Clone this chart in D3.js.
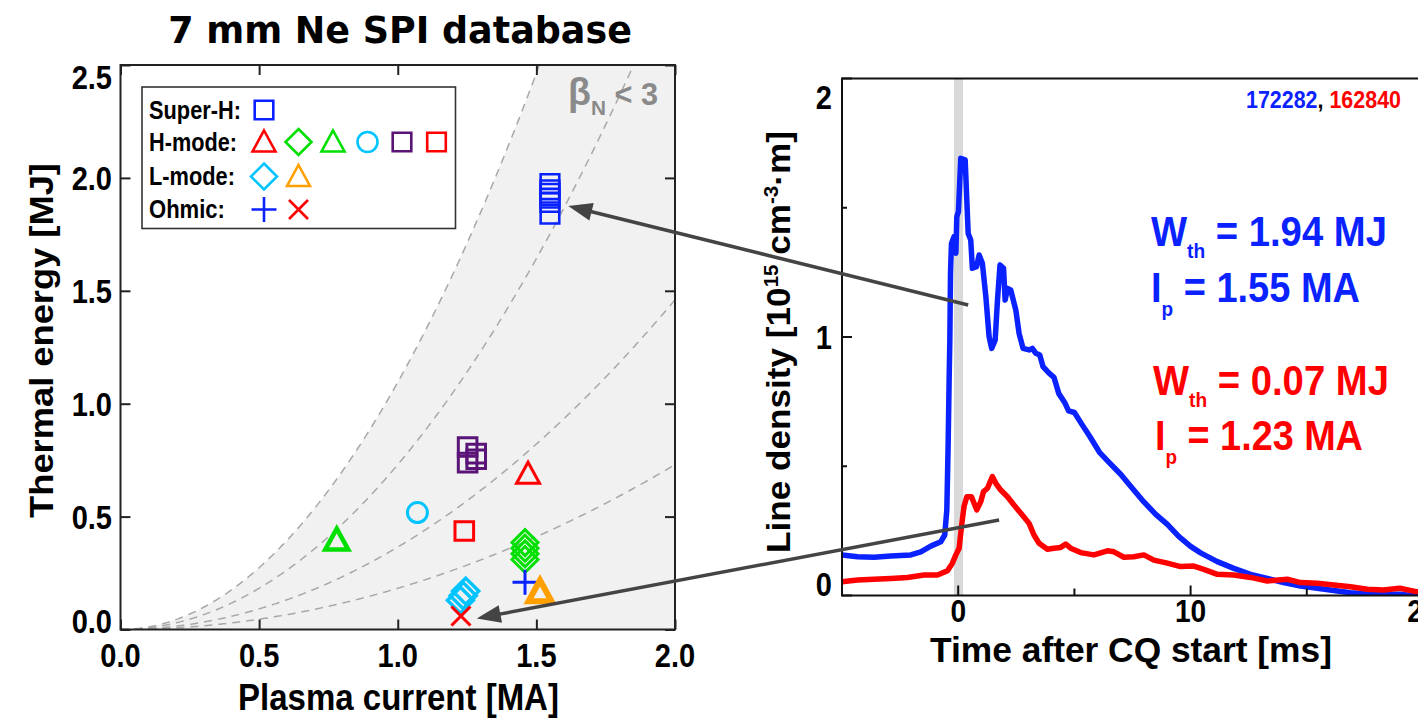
<!DOCTYPE html>
<html><head><meta charset="utf-8">
<script src="https://cdn.jsdelivr.net/npm/d3@7"></script>
<style>
body{margin:0;background:#fff}
svg{display:block}
text{font-family:'Liberation Sans',Arial,Helvetica,sans-serif;font-weight:bold}
</style>
</head><body>
<svg id="c" width="1418" height="724"></svg>
<script>
// ---------------- DATA ----------------
// Left panel: thermal energy [MJ] vs plasma current [MA]
const xTicksLeft = [0.0, 0.5, 1.0, 1.5, 2.0];
const yTicksLeft = [0.0, 0.5, 1.0, 1.5, 2.0, 2.5];
const betaNContours = [3, 2, 1, 0.5];
const betaNCoef = 0.365; // W = coef * betaN * Ip^2

const superH_I = [1.549, 1.549, 1.549, 1.549, 1.549, 1.549];
const superH_W = [1.975, 1.947, 1.932, 1.910, 1.891, 1.839];
const hRedTri_I = [1.47];           const hRedTri_W = [0.69];
const hGreenDia_I = [1.459, 1.459, 1.459, 1.459];
const hGreenDia_W = [0.385, 0.36, 0.335, 0.31];
const hGreenTri_I = [0.78];         const hGreenTri_W = [0.396];
const hCyanCirc_I = [1.071];        const hCyanCirc_W = [0.518];
const hPurpleSq_I = [1.252, 1.252, 1.283, 1.283];
const hPurpleSq_W = [0.808, 0.739, 0.779, 0.754];
const hRedSq_I = [1.24];            const hRedSq_W = [0.436];
const lCyanDia_I = [1.245, 1.236, 1.226];
const lCyanDia_W = [0.17, 0.15, 0.13];
const lOrangeTri_I = [1.513];       const lOrangeTri_W = [0.167];
const ohmPlus_I = [1.459];          const ohmPlus_W = [0.209];
const ohmX_I = [1.228];             const ohmX_W = [0.06];

const legendRows = ["Super-H:", "H-mode:", "L-mode:", "Ohmic:"];

// Right panel: line density [1e15 cm^-3 m] vs time after CQ start [ms]
const xTicksRight = [-5, 0, 5, 10, 15, 20];
const xTickLabelsRight = ["", "0", "", "10", "", "20"];
const yTicksRight = [0, 0.5, 1, 1.5, 2];
const yTickLabelsRight = ["0", "", "1", "", "2"];
const cqWindow = [-0.18, 0.21];

const t172282 = [-5.0,-4.33,-3.62,-2.9,-2.04,-1.61,-1.18,-0.75,-0.58,-0.49,-0.46,-0.43,-0.39,-0.36,-0.33,-0.29,-0.18,-0.10,-0.06,0.01,0.11,0.30,0.37,0.43,0.54,0.61,0.79,0.90,1.04,1.19,1.33,1.44,1.59,1.69,1.80,1.95,2.02,2.12,2.26,2.48,2.62,2.79,3.05,3.19,3.34,3.51,3.65,3.91,4.12,4.33,4.58,4.75,5.0,5.33,5.67,6.08,6.5,7.0,7.5,8.0,8.5,9.0,9.5,10.0,10.43,11.15,11.86,12.58,13.3,14.0,14.73,15.45,16.16,16.88,17.6,18.3,19.0,19.7,20.0];
const n172282 = [0.157,0.150,0.148,0.153,0.157,0.169,0.191,0.208,0.234,0.331,0.46,0.6,0.834,0.988,1.25,1.362,1.388,1.324,1.465,1.485,1.691,1.685,1.53,1.40,1.375,1.266,1.272,1.317,1.285,1.156,1.001,0.956,0.988,1.143,1.279,1.266,1.143,1.188,1.182,1.104,1.014,0.956,0.950,0.956,0.937,0.930,0.885,0.86,0.844,0.781,0.747,0.714,0.708,0.661,0.614,0.554,0.514,0.468,0.414,0.361,0.314,0.275,0.228,0.19,0.165,0.131,0.105,0.082,0.066,0.050,0.037,0.028,0.019,0.011,0.006,0.005,0.005,-0.002,-0.004];

const t162840 = [-5.0,-4.33,-3.62,-2.9,-2.18,-1.47,-0.89,-0.46,-0.25,-0.10,0.04,0.14,0.25,0.37,0.57,0.80,0.97,1.09,1.26,1.47,1.62,1.83,2.12,2.40,2.76,3.05,3.26,3.48,3.84,4.12,4.41,4.63,4.84,5.27,5.84,6.42,6.70,7.13,7.56,7.99,8.42,9.0,9.57,10.14,10.57,11.15,11.86,12.58,13.3,14.16,14.73,15.45,16.16,16.88,17.6,18.3,19.0,19.7,20.0];
const n162840 = [0.053,0.060,0.063,0.066,0.070,0.079,0.079,0.096,0.125,0.157,0.183,0.266,0.344,0.382,0.382,0.331,0.363,0.402,0.415,0.46,0.434,0.408,0.382,0.350,0.311,0.279,0.234,0.202,0.179,0.183,0.186,0.199,0.183,0.166,0.157,0.173,0.169,0.148,0.150,0.157,0.137,0.125,0.112,0.114,0.101,0.082,0.079,0.070,0.056,0.063,0.050,0.047,0.041,0.034,0.024,0.021,0.028,0.015,0.012];

// Arrows linking right-panel traces to left-panel points
const arrowFromT = [0.43, 1.76];
const arrowFromN = [1.124, 0.292];
const arrowToI = [1.615, 1.285];
const arrowToW = [1.876, 0.049];

// ---------------- DRAWING ----------------
const svg = d3.select('#c');
const SX = 0.88; // horizontal condensation of label font

function label(parent, x, y, parts, o = {}) {
  const g = parent.append('g');
  const t = g.append('text')
    .attr('text-anchor', o.anchor || 'start')
    .attr('font-size', o.size || 32)
    .attr('fill', o.fill || '#000');
  if (o.family) t.style('font-family', o.family);
  parts.forEach(p => {
    if (typeof p === 'string') p = {t: p};
    const s = t.append('tspan').text(p.t);
    if (p.dy !== undefined) s.attr('dy', p.dy);
    if (p.size) s.attr('font-size', p.size);
    if (p.fill) s.attr('fill', p.fill);
  });
  let sx = o.sx || SX;
  if (o.w) sx = o.w / t.node().getComputedTextLength();
  const sy = o.sy || 1;
  g.attr('transform', `translate(${x},${y}) rotate(${o.rot || 0}) scale(${sx},${sy})`);
  return t;
}

// ===== Left panel =====
const xL = d3.scaleLinear().domain([0, 2]).range([120.5, 675]);
const yL = d3.scaleLinear().domain([0, 2.5]).range([629.5, 65]);

const defs = svg.append('defs');
defs.append('clipPath').attr('id', 'clipL')
  .append('rect').attr('x', xL(0)).attr('y', yL(2.5))
  .attr('width', xL(2) - xL(0)).attr('height', yL(0) - yL(2.5));
defs.append('clipPath').attr('id', 'clipR')
  .append('rect').attr('x', 842).attr('y', 78.5).attr('width', 1418 - 842).attr('height', 595.5 - 78.5);

const gL = svg.append('g');
const gLc = gL.append('g').attr('clip-path', 'url(#clipL)');
const Igrid = d3.range(0, 2.0001, 0.005);

// shaded betaN<3 region
gLc.append('path')
  .datum(Igrid)
  .attr('d', d3.area()
    .x(I => xL(I))
    .y0(yL(0))
    .y1(I => yL(Math.min(2.6, betaNCoef * betaNContours[0] * I * I))))
  .attr('fill', '#f1f1f1');

// betaN contours
betaNContours.forEach(b => {
  gLc.append('path').datum(Igrid.filter(I => betaNCoef * b * I * I < 2.7))
    .attr('d', d3.line().x(I => xL(I)).y(I => yL(betaNCoef * b * I * I)))
    .attr('fill', 'none').attr('stroke', '#a8a8a8').attr('stroke-width', 1.5)
    .attr('stroke-dasharray', '8,6');
});

// marker shapes
function shapePath(type) {
  switch (type) {
    case 'square': return 'M-9.3,-9.3H9.3V9.3H-9.3Z';
    case 'triangle': return 'M0,-11.5L11.5,9.5L-11.5,9.5Z';
    case 'diamond': return 'M0,-13L13,0L0,13L-13,0Z';
    case 'circle': return 'M10,0A10,10 0 1,1 -10,0A10,10 0 1,1 10,0Z';
    case 'plus': return 'M-12.5,0H12.5M0,-12.5V12.5';
    case 'x': return 'M-9.5,-9.5L9.5,9.5M9.5,-9.5L-9.5,9.5';
  }
}
const BLUE = '#0a22ff', RED = '#ff0000', GREEN = '#00e000', CYAN = '#00c4ff',
      PURPLE = '#5a1478', ORANGE = '#ffa000';

const series = [
  {I: hGreenTri_I, W: hGreenTri_W, shape: 'triangle', color: GREEN, sw: 4.5},
  {I: hCyanCirc_I, W: hCyanCirc_W, shape: 'circle', color: CYAN, sw: 3},
  {I: hRedSq_I, W: hRedSq_W, shape: 'square', color: RED, sw: 3},
  {I: hPurpleSq_I, W: hPurpleSq_W, shape: 'square', color: PURPLE, sw: 3},
  {I: hRedTri_I, W: hRedTri_W, shape: 'triangle', color: RED, sw: 3},
  {I: hGreenDia_I, W: hGreenDia_W, shape: 'diamond', color: GREEN, sw: 3},
  {I: ohmPlus_I, W: ohmPlus_W, shape: 'plus', color: BLUE, sw: 3},
  {I: lOrangeTri_I, W: lOrangeTri_W, shape: 'triangle', color: ORANGE, sw: 6},
  {I: lCyanDia_I, W: lCyanDia_W, shape: 'diamond', color: CYAN, sw: 3.5},
  {I: ohmX_I, W: ohmX_W, shape: 'x', color: RED, sw: 3},
  {I: superH_I, W: superH_W, shape: 'square', color: BLUE, sw: 2.6},
];
series.forEach(s => {
  gL.selectAll(null).data(d3.range(s.I.length)).enter().append('path')
    .attr('transform', i => `translate(${xL(s.I[i])},${yL(s.W[i])})`)
    .attr('d', shapePath(s.shape))
    .attr('fill', 'none').attr('stroke', s.color).attr('stroke-width', s.sw)
    .attr('stroke-linejoin', 'miter');
});

// frame + inward ticks
gL.append('rect').attr('x', xL(0)).attr('y', yL(2.5))
  .attr('width', xL(2) - xL(0)).attr('height', yL(0) - yL(2.5))
  .attr('fill', 'none').attr('stroke', '#222').attr('stroke-width', 2);
function tickStyle(g) {
  g.select('.domain').remove();
  g.selectAll('line').attr('stroke', '#222').attr('stroke-width', 2);
}
gL.append('g').attr('transform', `translate(0,${yL(0)})`)
  .call(d3.axisBottom(xL).tickValues(xTicksLeft).tickSize(-10).tickFormat('')).call(tickStyle);
gL.append('g').attr('transform', `translate(0,${yL(2.5)})`)
  .call(d3.axisTop(xL).tickValues(xTicksLeft).tickSize(-10).tickFormat('')).call(tickStyle);
gL.append('g').attr('transform', `translate(${xL(0)},0)`)
  .call(d3.axisLeft(yL).tickValues(yTicksLeft).tickSize(-10).tickFormat('')).call(tickStyle);
gL.append('g').attr('transform', `translate(${xL(2)},0)`)
  .call(d3.axisRight(yL).tickValues(yTicksLeft).tickSize(-10).tickFormat('')).call(tickStyle);

// tick labels
xTicksLeft.forEach(v => label(gL, xL(v), 667, [d3.format('.1f')(v)], {anchor: 'middle', size: 33}));
yTicksLeft.forEach(v => {
  const off = v === 0 ? -9 : (v === 2.5 ? 12 : 0);
  label(gL, 112, yL(v) + off + 12, [d3.format('.1f')(v)], {anchor: 'end', size: 33});
});

// axis titles
label(gL, 398.5, 710, ['Plasma current [MA]'], {anchor: 'middle', size: 37, w: 321});
label(gL, 53, 340.5, ['Thermal energy [MJ]'], {anchor: 'middle', size: 37, rot: -90, w: 355, sy: 0.92});
label(svg, 400, 43, ['7 mm Ne SPI database'], {anchor: 'middle', size: 37, w: 464, family: "'DejaVu Sans',Verdana,sans-serif"});

// betaN < 3
label(gL, 568, 105, [{t: 'β', size: 38}, {t: 'N', size: 21, dy: 10}, {t: ' < 3', dy: -10}], {size: 31, fill: '#8a8a8a', w: 90});

// legend
const legendShapes = [
  [['square', BLUE]],
  [['triangle', RED], ['diamond', GREEN], ['triangle', GREEN], ['circle', CYAN], ['square', PURPLE], ['square', RED]],
  [['diamond', CYAN], ['triangle', ORANGE]],
  [['plus', BLUE], ['x', RED]]
];
const legendTextW = [92, 88, 86, 76];
const legRowY = [110, 142, 176.5, 209.5];
gL.append('rect').attr('x', 142).attr('y', 87).attr('width', 313.5).attr('height', 141.5)
  .attr('fill', '#fff').attr('stroke', '#333').attr('stroke-width', 1.6);
legendRows.forEach((name, r) => {
  label(gL, 149, legRowY[r] + 8.5, [name], {size: 25, w: legendTextW[r]});
  legendShapes[r].forEach((s, k) => {
    gL.append('path').attr('transform', `translate(${264 + 34.5 * k},${legRowY[r]})`)
      .attr('d', shapePath(s[0])).attr('fill', 'none').attr('stroke', s[1]).attr('stroke-width', 2.6);
  });
});

// ===== Right panel =====
const xR = d3.scaleLinear().domain([-5, 20]).range([842, 1423]);
const yR = d3.scaleLinear().domain([0, 2]).range([595.5, 78.5]);
const gR = svg.append('g');
const gRc = gR.append('g').attr('clip-path', 'url(#clipR)');

gRc.append('rect').attr('x', xR(cqWindow[0])).attr('y', yR(2))
  .attr('width', xR(cqWindow[1]) - xR(cqWindow[0])).attr('height', yR(0) - yR(2))
  .attr('fill', '#d9d9d9');

const lineR = d3.line().x(d => xR(d[0])).y(d => yR(d[1]));
gRc.append('path').datum(d3.zip(t172282, n172282)).attr('d', lineR)
  .attr('fill', 'none').attr('stroke', BLUE).attr('stroke-width', 5.5).attr('stroke-linejoin', 'round');
gRc.append('path').datum(d3.zip(t162840, n162840)).attr('d', lineR)
  .attr('fill', 'none').attr('stroke', RED).attr('stroke-width', 5.5).attr('stroke-linejoin', 'round');

// frame
gR.append('path')
  .attr('d', `M${xR(20) + 5},${yR(2)}H${xR(-5)}V${yR(0)}H${xR(20) + 5}`)
  .attr('fill', 'none').attr('stroke', '#111').attr('stroke-width', 2);
// ticks
xTicksRight.forEach((v, i) => {
  const len = xTickLabelsRight[i] ? 10 : 7;
  gR.append('line').attr('x1', xR(v)).attr('x2', xR(v)).attr('y1', yR(0)).attr('y2', yR(0) - len)
    .attr('stroke', '#111').attr('stroke-width', 2);
  if (xTickLabelsRight[i]) label(gR, xR(v), 622, [xTickLabelsRight[i]], {anchor: 'middle', size: 32});
});
yTicksRight.forEach((v, i) => {
  const len = yTickLabelsRight[i] ? 10 : 5;
  gR.append('line').attr('x1', xR(-5)).attr('x2', xR(-5) + len).attr('y1', yR(v)).attr('y2', yR(v))
    .attr('stroke', '#111').attr('stroke-width', 2);
  if (yTickLabelsRight[i]) {
    const off = v === 0 ? -12 : (v === 2 ? 18 : 0);
    label(gR, 832, yR(v) + off + 12, [yTickLabelsRight[i]], {anchor: 'end', size: 33});
  }
});

label(gR, 1131, 662, ['Time after CQ start [ms]'], {anchor: 'middle', size: 36, w: 402});
label(gR, 790, 342, ['Line density [10', {t: '15', size: 21, dy: -13}, {t: ' cm', dy: 13},
  {t: '-3', size: 21, dy: -13}, {t: '·m]', dy: 13}], {anchor: 'middle', size: 36, rot: -90, w: 422, sy: 0.92});

label(gR, 1246, 108, [{t: '172282', fill: BLUE}, {t: ', ', fill: '#000'}, {t: '162840', fill: RED}], {size: 24, w: 155});

label(gR, 1151, 246, ['W', {t: 'th', size: 21, dy: 12}, {t: ' = 1.94 MJ', dy: -12}], {size: 42, fill: BLUE, w: 236});
label(gR, 1151, 302, ['I', {t: 'p', size: 21, dy: 14}, {t: ' = 1.55 MA', dy: -14}], {size: 42, fill: BLUE, w: 209});
label(gR, 1153, 395, ['W', {t: 'th', size: 21, dy: 12}, {t: ' = 0.07 MJ', dy: -12}], {size: 42, fill: RED, w: 236});
label(gR, 1155, 450, ['I', {t: 'p', size: 21, dy: 14}, {t: ' = 1.23 MA', dy: -14}], {size: 42, fill: RED, w: 208});

// ===== Arrows =====
const gA = svg.append('g');
arrowFromT.forEach((t, i) => {
  const x0 = xR(t), y0 = yR(arrowFromN[i]);
  const x1 = xL(arrowToI[i]), y1 = yL(arrowToW[i]);
  const dx = x1 - x0, dy = y1 - y0, L = Math.hypot(dx, dy);
  const ux = dx / L, uy = dy / L, px = -uy, py = ux;
  const hl = 24, hw = 9;
  const bx = x1 - ux * hl, by = y1 - uy * hl;
  gA.append('line').attr('x1', x0).attr('y1', y0).attr('x2', bx + ux * 2).attr('y2', by + uy * 2)
    .attr('stroke', '#444').attr('stroke-width', 3.5);
  gA.append('path')
    .attr('d', `M${x1},${y1}L${bx + px * hw},${by + py * hw}L${bx - px * hw},${by - py * hw}Z`)
    .attr('fill', '#444');
});
</script>
</body></html>
